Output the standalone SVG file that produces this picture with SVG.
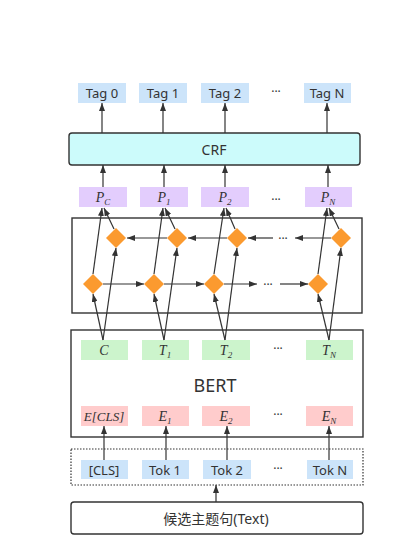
<svg xmlns="http://www.w3.org/2000/svg" width="400" height="543" viewBox="0 0 400 543">
<style>
.bg{fill:#ffffff}
.tag{fill:#cce4fa;stroke:none}
.p{fill:#e3cdfd;stroke:none}
.t{fill:#ccf4cc;stroke:none}
.e{fill:#ffcccc;stroke:none}
.frame{fill:none;stroke:#333;stroke-width:1.4}
.crf{fill:#ccfbfb;stroke:#333;stroke-width:1.4}
.txt{font-family:"Noto Sans","Noto Sans CJK SC",sans-serif;font-size:13px;fill:#333;text-anchor:middle;dominant-baseline:central}
.it{font-family:"Liberation Serif",serif;font-style:italic;font-size:14px;fill:#333;text-anchor:middle}
.sub{font-size:9px}
.dots{font-family:"Noto Sans",sans-serif;font-size:12px;fill:#333;text-anchor:middle}
.ln{stroke:#333;stroke-width:1.2;fill:none}
.arr{stroke:#333;stroke-width:1.2;fill:none;marker-end:url(#ah)}
.dia{fill:#fb9a2f}
</style>
<defs>
<marker id="ah" viewBox="0 0 8 6" refX="8" refY="3" markerWidth="8" markerHeight="6" markerUnits="userSpaceOnUse" orient="auto"><path d="M0,0 L8,3 L0,6 Z" fill="#333"/></marker>
<path id="dm" d="M0,-10 L10,0 L0,10 L-10,0 Z"/>
</defs>
<rect class="bg" x="0" y="0" width="400" height="543"/>

<g id="tags">
<g id="tag0"><rect class="tag" x="78" y="83" width="48" height="20"/><text class="txt" x="102" y="93">Tag 0</text></g>
<g id="tag1"><rect class="tag" x="139" y="83" width="48" height="20"/><text class="txt" x="163" y="93">Tag 1</text></g>
<g id="tag2"><rect class="tag" x="201" y="83" width="48" height="20"/><text class="txt" x="225" y="93">Tag 2</text></g>
<text class="dots" x="276" y="96">···</text>
<g id="tagN"><rect class="tag" x="304" y="83" width="47" height="20"/><text class="txt" x="327" y="93">Tag N</text></g>
</g>

<g id="crf"><rect class="crf" x="69" y="133" width="291" height="32" rx="3"/><text class="txt" x="214" y="149" style="font-size:14px">CRF</text></g>

<g id="pboxes">
<g id="pc"><rect class="p" x="79" y="187" width="48" height="20"/><text class="it" x="103" y="202">P<tspan class="sub" dy="3">C</tspan></text></g>
<g id="p1"><rect class="p" x="140" y="187" width="48" height="20"/><text class="it" x="164" y="202">P<tspan class="sub" dy="3">1</tspan></text></g>
<g id="p2"><rect class="p" x="201" y="187" width="48" height="20"/><text class="it" x="225" y="202">P<tspan class="sub" dy="3">2</tspan></text></g>
<text class="dots" x="276" y="204">···</text>
<g id="pN"><rect class="p" x="305" y="187" width="47" height="20"/><text class="it" x="328" y="202">P<tspan class="sub" dy="3">N</tspan></text></g>
</g>

<g id="bilstm">
<rect class="frame" x="72" y="218" width="290" height="95"/>
<use href="#dm" class="dia" x="116" y="238"/>
<use href="#dm" class="dia" x="177" y="238"/>
<use href="#dm" class="dia" x="237" y="238"/>
<use href="#dm" class="dia" x="341" y="238"/>
<use href="#dm" class="dia" x="93" y="284"/>
<use href="#dm" class="dia" x="154" y="284"/>
<use href="#dm" class="dia" x="214" y="284"/>
<use href="#dm" class="dia" x="318" y="284"/>
<text class="dots" x="283" y="243">···</text>
<text class="dots" x="268" y="289">···</text>
</g>

<g id="bert">
<rect class="frame" x="71" y="330" width="292" height="107"/>
<text class="txt" x="215" y="385" style="font-size:18px">BERT</text>
<g id="tc"><rect class="t" x="81" y="340" width="47" height="20"/><text class="it" x="104" y="355">C</text></g>
<g id="t1"><rect class="t" x="142" y="340" width="47" height="20"/><text class="it" x="165" y="355">T<tspan class="sub" dy="3">1</tspan></text></g>
<g id="t2"><rect class="t" x="202" y="340" width="48" height="20"/><text class="it" x="226" y="355">T<tspan class="sub" dy="3">2</tspan></text></g>
<text class="dots" x="278" y="353">···</text>
<g id="tN"><rect class="t" x="306" y="340" width="47" height="20"/><text class="it" x="329" y="355">T<tspan class="sub" dy="3">N</tspan></text></g>
<g id="ecls"><rect class="e" x="81" y="406" width="47" height="20"/><text class="it" x="104" y="421" style="font-size:13px">E[CLS]</text></g>
<g id="e1"><rect class="e" x="142" y="406" width="47" height="20"/><text class="it" x="165" y="421">E<tspan class="sub" dy="3">1</tspan></text></g>
<g id="e2"><rect class="e" x="202" y="406" width="48" height="20"/><text class="it" x="226" y="421">E<tspan class="sub" dy="3">2</tspan></text></g>
<text class="dots" x="278" y="419">···</text>
<g id="eN"><rect class="e" x="306" y="406" width="47" height="20"/><text class="it" x="329" y="421">E<tspan class="sub" dy="3">N</tspan></text></g>
</g>

<g id="tokens">
<rect class="frame" x="71" y="449" width="292" height="36" style="stroke-dasharray:1.5 1.5;stroke-width:1.2"/>
<g id="tcls"><rect class="tag" x="81" y="460" width="47" height="19"/><text class="txt" x="104" y="469.5">[CLS]</text></g>
<g id="tok1"><rect class="tag" x="142" y="460" width="47" height="19"/><text class="txt" x="165" y="469.5">Tok 1</text></g>
<g id="tok2"><rect class="tag" x="203" y="460" width="48" height="19"/><text class="txt" x="227" y="469.5">Tok 2</text></g>
<text class="dots" x="278" y="473">···</text>
<g id="tokN"><rect class="tag" x="307" y="460" width="46" height="19"/><text class="txt" x="330" y="469.5">Tok N</text></g>
</g>

<g id="input"><rect class="frame" x="71" y="502" width="292" height="32" rx="3"/><text class="txt" x="216" y="518" style="font-size:14px">候选主题句(Text)</text></g>

<g id="connectors">
<line class="arr" x1="102" y1="133" x2="102" y2="103"/>
<line class="arr" x1="163" y1="133" x2="163" y2="103"/>
<line class="arr" x1="225" y1="133" x2="225" y2="103"/>
<line class="arr" x1="327" y1="133" x2="327" y2="103"/>
<line class="arr" x1="103" y1="187" x2="103" y2="165"/>
<line class="arr" x1="164" y1="187" x2="164" y2="165"/>
<line class="arr" x1="225" y1="187" x2="225" y2="165"/>
<line class="arr" x1="328" y1="187" x2="328" y2="165"/>
<!-- top row leftward -->
<line class="arr" x1="167" y1="238" x2="127" y2="238"/>
<line class="arr" x1="227" y1="238" x2="188" y2="238"/>
<line class="arr" x1="273" y1="238" x2="248" y2="238"/>
<line class="arr" x1="331" y1="238" x2="295" y2="238"/>
<!-- bottom row rightward -->
<line class="arr" x1="103" y1="284" x2="144" y2="284"/>
<line class="arr" x1="164" y1="284" x2="204" y2="284"/>
<line class="arr" x1="224" y1="284" x2="257" y2="284"/>
<line class="arr" x1="280" y1="284" x2="308" y2="284"/>
<!-- diamonds to P -->
<line class="arr" x1="93" y1="274" x2="102" y2="208"/>
<line class="arr" x1="114" y1="229" x2="104" y2="208"/>
<line class="arr" x1="154" y1="274" x2="163" y2="208"/>
<line class="arr" x1="175" y1="229" x2="165" y2="208"/>
<line class="arr" x1="214" y1="274" x2="224" y2="208"/>
<line class="arr" x1="235" y1="229" x2="226" y2="208"/>
<line class="arr" x1="318" y1="274" x2="327" y2="208"/>
<line class="arr" x1="339" y1="229" x2="329" y2="208"/>
<!-- T to diamonds -->
<line class="arr" x1="103" y1="340" x2="93" y2="294"/>
<line class="arr" x1="103" y1="340" x2="116" y2="248"/>
<line class="arr" x1="164" y1="340" x2="154" y2="294"/>
<line class="arr" x1="164" y1="340" x2="177" y2="248"/>
<line class="arr" x1="225" y1="340" x2="214" y2="294"/>
<line class="arr" x1="225" y1="340" x2="237" y2="248"/>
<line class="arr" x1="329" y1="340" x2="318" y2="294"/>
<line class="arr" x1="329" y1="340" x2="341" y2="248"/>
<!-- Tok to E -->
<line class="arr" x1="104" y1="460" x2="104" y2="426"/>
<line class="arr" x1="166" y1="460" x2="166" y2="426"/>
<line class="arr" x1="227" y1="460" x2="227" y2="426"/>
<line class="arr" x1="329" y1="460" x2="329" y2="426"/>
<line class="arr" x1="216" y1="502" x2="216" y2="485"/>
</g>
</svg>
